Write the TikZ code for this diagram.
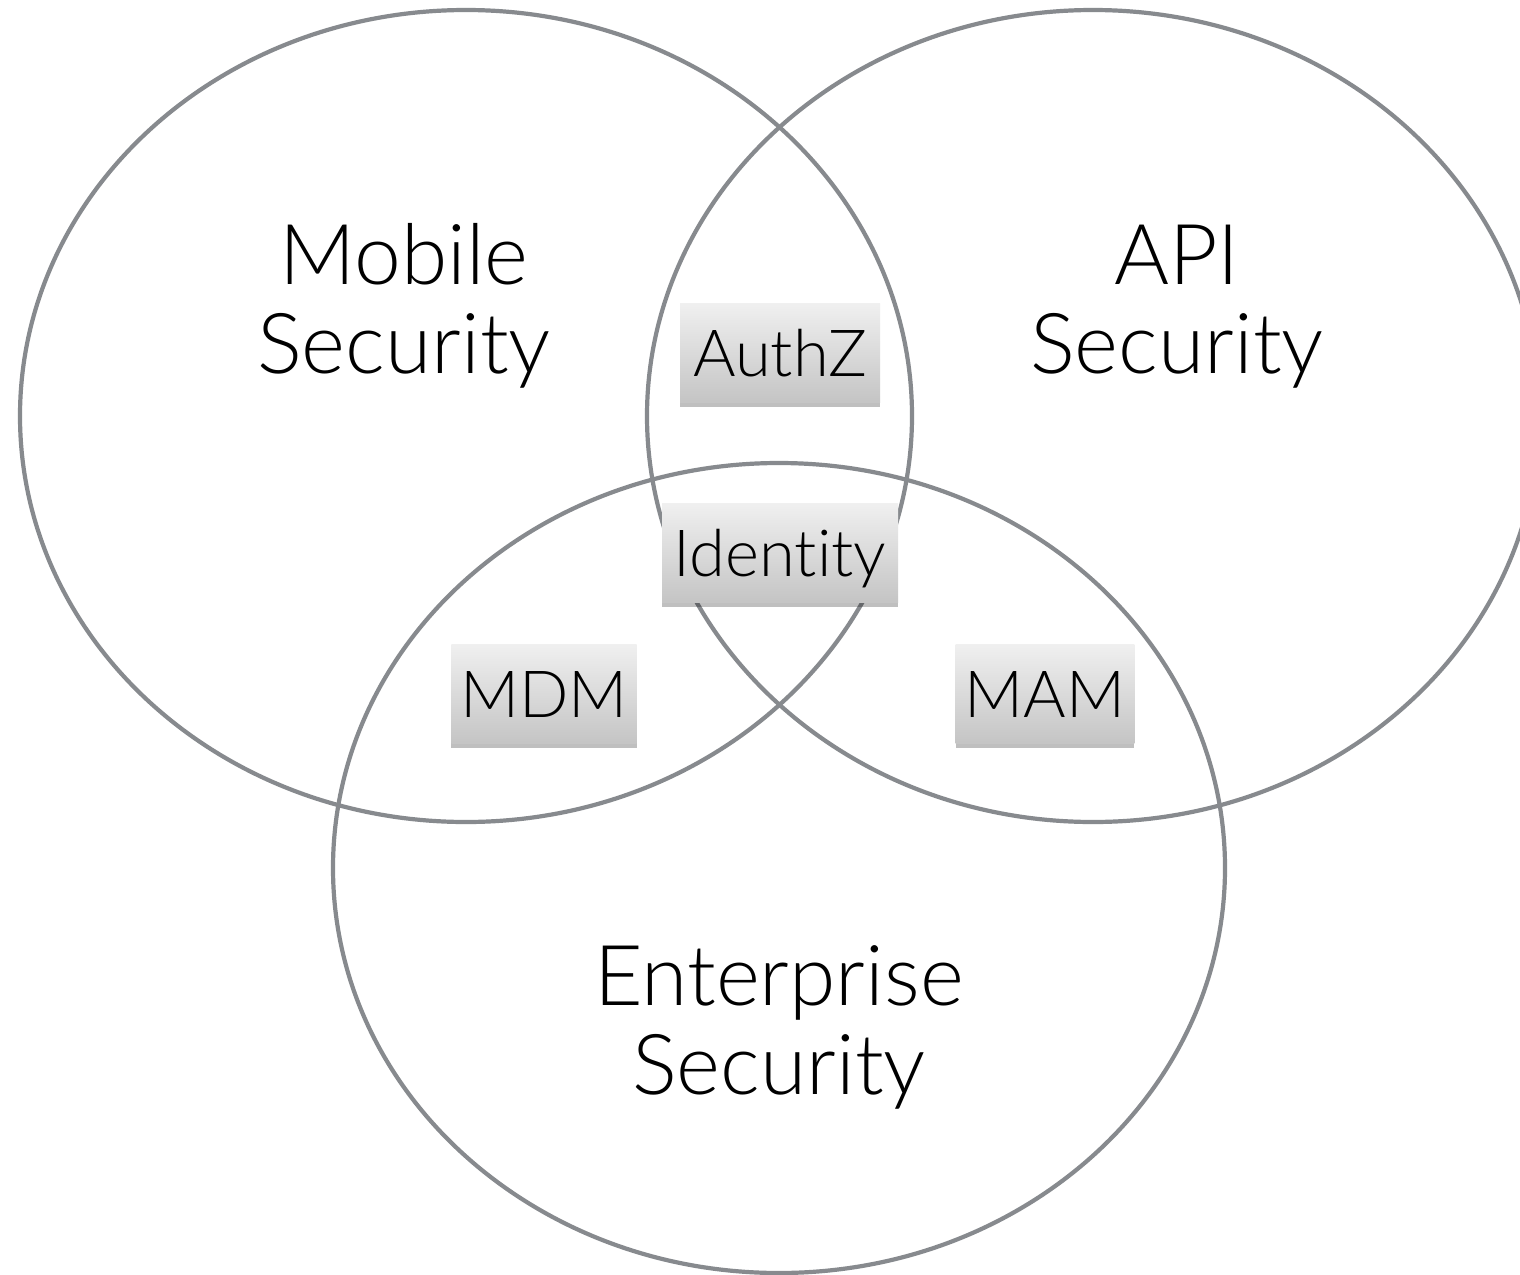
\documentclass[tikz,border=0pt]{standalone}
\usepackage{fontspec}
\setmainfont{Lato}[UprightFont=* Light, Ligatures=NoCommon]
\usetikzlibrary{shadows}
\definecolor{ringgray}{HTML}{878A8E}
\tikzset{
  ring/.style={draw=ringgray, line width=4.2pt},
  biglabel/.style={anchor=base, inner sep=0pt, font=\fontsize{84}{90}\selectfont},
  tagbox/.style={top color=white!94!black, bottom color=white!77!black,
    draw=none, minimum height=99pt, inner xsep=9pt, inner ysep=0pt,
    text height=47pt, text depth=0pt,
    font=\fontsize{65}{70}\selectfont,
    drop shadow={shadow xshift=0pt, shadow yshift=-4pt, opacity=0.25, fill=black}}
}
\begin{document}
\begin{tikzpicture}[x=1pt,y=-1pt]
\useasboundingbox (0,0) rectangle (1520,1274);
\fill[white] (0,0) rectangle (1520,1274);
\draw[ring] (466,416) ellipse [x radius=446pt, y radius=406pt];
\draw[ring] (1093,416) ellipse [x radius=446pt, y radius=406pt];
\draw[ring] (779,868) ellipse [x radius=446pt, y radius=405pt];
\node[biglabel] (mob1) at (404,284) {Mobile};
\node[biglabel] (mob2) at (404,373) {Security};
\node[biglabel] (api1) at (1177,284) {API};
\node[biglabel] (api2) at (1177,373) {Security};
\node[biglabel] (ent1) at (779,1005) {Enterprise};
\node[biglabel] (ent2) at (779,1094) {Security};
\node[tagbox, minimum width=200pt] (authz) at (780,353) {AuthZ};
\node[tagbox, minimum width=236pt] (ident) at (780,553) {Identity};
\node[tagbox, minimum width=177pt] (mdm) at (544,694) {MDM};
\node[tagbox, minimum width=176pt] (mam) at (1045,694) {MAM};
\end{tikzpicture}
\end{document}
